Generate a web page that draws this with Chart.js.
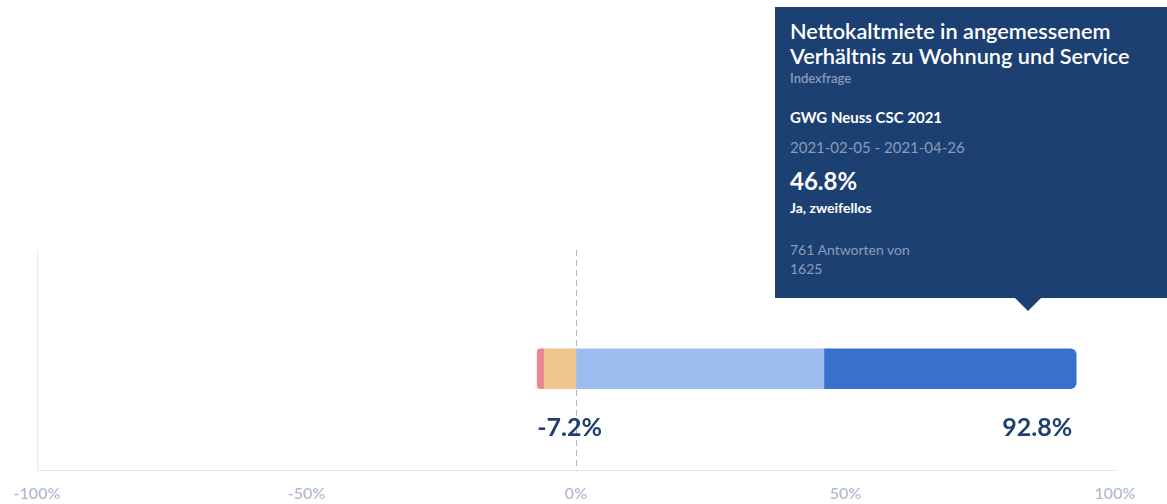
<!DOCTYPE html>
<html>
<head>
<meta charset="utf-8">
<script src="https://cdn.jsdelivr.net/npm/chart.js@4/dist/chart.umd.min.js"></script>
<style>
  html, body { margin: 0; padding: 0; background: #fff; overflow: hidden; }
  #wrap { position: relative; width: 1167px; height: 504px; }
  #tip {
    position: absolute; left: 775px; top: 7px; width: 420px; height: 291px;
    background: #1d4073; color: #fff; font-family: Lato, "Open Sans", sans-serif;
    box-sizing: border-box; padding: 12px 15px;
  }
  #tip .t { font-size: 21.7px; font-weight: 600; line-height: 25px; }
  #tip .s { font-size: 13px; color: #8a9cb8; margin-top: 1px; font-weight: 600; }
  #tip .g { font-size: 15px; font-weight: 700; margin-top: 22px; }
  #tip .d { font-size: 15px; color: #8a9cb8; margin-top: 12px; }
  #tip .v { font-size: 24px; font-weight: 700; margin-top: 10px; }
  #tip .a { font-size: 14px; font-weight: 700; margin-top: 4px; }
  #tip .n { font-size: 14px; color: #8a9cb8; margin-top: 24px; line-height: 19px; }
  #caret {
    position: absolute; left: 1015px; top: 298px; width: 0; height: 0;
    border-left: 13px solid transparent; border-right: 13px solid transparent;
    border-top: 13px solid #1d4073;
  }
</style>
</head>
<body>
<div id="wrap">
  <canvas id="c" width="1167" height="504"></canvas>
  <div id="tip">
    <div class="t">Nettokaltmiete in angemessenem<br>Verhältnis zu Wohnung und Service</div>
    <div class="s">Indexfrage</div>
    <div class="g">GWG Neuss CSC 2021</div>
    <div class="d">2021-02-05 - 2021-04-26</div>
    <div class="v">46.8%</div>
    <div class="a">Ja, zweifellos</div>
    <div class="n">761 Antworten von<br>1625</div>
  </div>
  <div id="caret"></div>
</div>
<script>
const segmentLabels = ['Eher nein', 'Nein, keinesfalls', 'Eher ja', 'Ja, zweifellos'];
const segmentValues = [-5.9, -1.3, 46.0, 46.8];
const segmentColors = ['#f0c58d', '#e9868f', '#9dbcef', '#3870cc'];
const xTicks = [-100, -50, 0, 50, 100];
const negTotal = segmentValues.filter(v => v < 0).reduce((a, b) => a + b, 0);
const posTotal = segmentValues.filter(v => v > 0).reduce((a, b) => a + b, 0);

const extras = {
  id: 'extras',
  beforeDatasetsDraw(chart) {
    const { ctx, chartArea, scales } = chart;
    const x0 = Math.round(scales.x.getPixelForValue(0)) + 0.5;
    ctx.save();
    ctx.strokeStyle = '#a9b5ca';
    ctx.lineWidth = 1;
    ctx.setLineDash([6, 4]);
    ctx.beginPath();
    ctx.moveTo(x0, chartArea.top);
    ctx.lineTo(x0, chartArea.bottom);
    ctx.stroke();
    ctx.restore();
  },
  afterDatasetsDraw(chart) {
    const { ctx, scales } = chart;
    const y = scales.y.getPixelForValue(10) + 59;
    ctx.save();
    ctx.font = '700 25px Lato, "Open Sans", sans-serif';
    ctx.fillStyle = '#1f3f6e';
    ctx.textBaseline = 'middle';
    ctx.textAlign = 'left';
    ctx.fillText(negTotal.toFixed(1) + '%', scales.x.getPixelForValue(negTotal), y);
    ctx.textAlign = 'right';
    ctx.fillText(posTotal.toFixed(1) + '%', scales.x.getPixelForValue(posTotal) - 4, y);
    ctx.restore();
  }
};

const last = segmentValues.length - 1;
new Chart(document.getElementById('c'), {
  type: 'bar',
  data: {
    datasets: segmentValues.map((v, i) => ({
      label: segmentLabels[i],
      data: [{ x: v, y: 10 }],
      backgroundColor: segmentColors[i],
      borderWidth: 0,
      borderSkipped: false,
      barThickness: 40,
      borderRadius: i === 1 ? { topLeft: 6, bottomLeft: 6 } : (i === last ? { topRight: 6, bottomRight: 6 } : 0)
    }))
  },
  options: {
    indexAxis: 'y',
    responsive: false,
    animation: false,
    layout: { padding: { left: 37, right: 52, top: 250, bottom: -12 } },
    plugins: { legend: { display: false }, tooltip: { enabled: false } },
    scales: {
      x: {
        stacked: true, min: -100, max: 100,
        afterBuildTicks: s => { s.ticks = xTicks.map(v => ({ value: v })); },
        grid: { display: false, drawTicks: false, tickLength: 0 },
        border: { color: '#e6e8ec' },
        ticks: {
          color: '#b1bccf', padding: 13,
          font: { family: 'Lato, "Open Sans", sans-serif', size: 16, weight: 600 },
          callback: v => v + '%'
        }
      },
      y: {
        type: 'linear', stacked: true, min: 0, max: 22,
        grid: { display: false, drawTicks: false, tickLength: 0 },
        border: { color: '#e6e8ec' },
        ticks: { display: false, padding: 0 }
      }
    }
  },
  plugins: [extras]
});
</script>
</body>
</html>
